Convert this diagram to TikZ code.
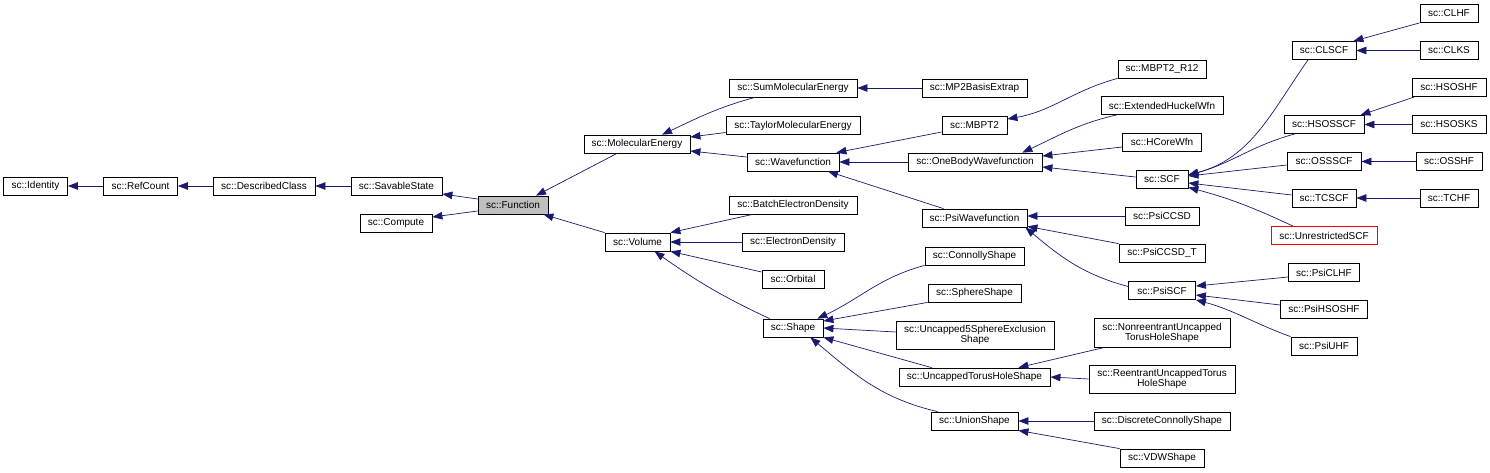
\documentclass[tikz,border=0pt]{standalone}
\usepackage{fontspec}
\setmainfont{Liberation Sans}
\usetikzlibrary{arrows.meta}
\definecolor{edgeblue}{RGB}{25,25,112}
\definecolor{fungray}{RGB}{191,191,191}
\begin{document}
\begin{tikzpicture}[x=1pt,y=-1pt,
 cls/.style={draw=black, line width=0.8pt, fill=white, inner sep=0pt, minimum height=18pt, font=\fontsize{10}{10}\selectfont, align=center},
 cls2/.style={cls, minimum height=28pt},
 edge/.style={draw=edgeblue, line width=0.7pt, -{Triangle[length=10pt,width=7.5pt]}},
]
\useasboundingbox (0,0) rectangle (1490,472);
% column 0-3
\node[cls, minimum width=64pt] (Identity) at (35.5,186) {sc::Identity};
\node[cls, minimum width=74pt] (RefCount) at (140.5,186) {sc::RefCount};
\node[cls, minimum width=102pt] (DescribedClass) at (264,186) {sc::DescribedClass};
\node[cls, minimum width=91pt] (SavableState) at (396.5,186) {sc::SavableState};
\node[cls, minimum width=72pt] (Compute) at (396,223) {sc::Compute};
\node[cls, minimum width=70pt, fill=fungray] (Function) at (513,205) {sc::Function};
% column 4
\node[cls, minimum width=106pt] (MolecularEnergy) at (637,144) {sc::MolecularEnergy};
\node[cls, minimum width=65pt] (Volume) at (637.5,242) {sc::Volume};
% column 5
\node[cls, minimum width=128pt] (SumMolecularEnergy) at (793,88) {sc::SumMolecularEnergy};
\node[cls, minimum width=134pt] (TaylorMolecularEnergy) at (793,125.5) {sc::TaylorMolecularEnergy};
\node[cls, minimum width=92pt] (Wavefunction) at (793,162) {sc::Wavefunction};
\node[cls, minimum width=128pt] (BatchElectronDensity) at (793,205) {sc::BatchElectronDensity};
\node[cls, minimum width=102pt] (ElectronDensity) at (793,242) {sc::ElectronDensity};
\node[cls, minimum width=62pt] (Orbital) at (793,279) {sc::Orbital};
\node[cls, minimum width=60pt] (Shape) at (793,328) {sc::Shape};
% column 6
\node[cls, minimum width=105pt] (MPBasisExtrap) at (974.5,88) {sc::MP2BasisExtrap};
\node[cls, minimum width=65pt] (MBPT) at (974.5,125.5) {sc::MBPT2};
\node[cls, minimum width=134pt] (OneBodyWavefunction) at (975,162) {sc::OneBodyWavefunction};
\node[cls, minimum width=105pt] (PsiWavefunction) at (974.5,218) {sc::PsiWavefunction};
\node[cls, minimum width=99pt] (ConnollyShape) at (974.5,256) {sc::ConnollyShape};
\node[cls, minimum width=93pt] (SphereShape) at (974.5,293) {sc::SphereShape};
\node[cls2, minimum width=158pt] (Uncapped) at (975,335) {sc::Uncapped5SphereExclusion\\Shape};
\node[cls, minimum width=151pt] (UncappedTorus) at (974.5,377) {sc::UncappedTorusHoleShape};
\node[cls, minimum width=87pt] (UnionShape) at (974.5,421) {sc::UnionShape};
% column 7
\node[cls, minimum width=88pt] (MBPTR) at (1162,69) {sc::MBPT2\_R12};
\node[cls, minimum width=122pt] (ExtendedHuckelWfn) at (1162,105.5) {sc::ExtendedHuckelWfn};
\node[cls, minimum width=79pt] (HCoreWfn) at (1162,142) {sc::HCoreWfn};
\node[cls, minimum width=52pt] (SCF) at (1162,179) {sc::SCF};
\node[cls, minimum width=74pt] (PsiCCSD) at (1162,216) {sc::PsiCCSD};
\node[cls, minimum width=86pt] (PsiCCSDT) at (1162,253) {sc::PsiCCSD\_T};
\node[cls, minimum width=67pt] (PsiSCF) at (1162,290.5) {sc::PsiSCF};
\node[cls2, minimum width=136pt, minimum height=29pt] (Nonreentrant) at (1162,332.5) {sc::NonreentrantUncapped\\TorusHoleShape};
\node[cls2, minimum width=146pt] (Reentrant) at (1162,379) {sc::ReentrantUncappedTorus\\HoleShape};
\node[cls, minimum width=136pt] (Discrete) at (1162,421) {sc::DiscreteConnollyShape};
\node[cls, minimum width=84pt] (VDWShape) at (1162,458) {sc::VDWShape};
% column 8
\node[cls, minimum width=64pt] (CLSCF) at (1324,50.5) {sc::CLSCF};
\node[cls, minimum width=80pt] (HSOSSCF) at (1324,124.5) {sc::HSOSSCF};
\node[cls, minimum width=74pt] (OSSSCF) at (1324,161.5) {sc::OSSSCF};
\node[cls, minimum width=64pt] (TCSCF) at (1324,198) {sc::TCSCF};
\node[cls, minimum width=106pt, draw=red] (UnrestrictedSCF) at (1324,235.5) {sc::UnrestrictedSCF};
\node[cls, minimum width=71pt] (PsiCLHF) at (1324,272.5) {sc::PsiCLHF};
\node[cls, minimum width=87pt] (PsiHSOSHF) at (1324,309) {sc::PsiHSOSHF};
\node[cls, minimum width=66pt] (PsiUHF) at (1324,346) {sc::PsiUHF};
% column 9
\node[cls, minimum width=58pt] (CLHF) at (1449,13.5) {sc::CLHF};
\node[cls, minimum width=58pt] (CLKS) at (1449,50.5) {sc::CLKS};
\node[cls, minimum width=74pt] (HSOSHF) at (1449,87.5) {sc::HSOSHF};
\node[cls, minimum width=74pt] (HSOSKS) at (1449,124.5) {sc::HSOSKS};
\node[cls, minimum width=66pt] (OSSHF) at (1449,161.5) {sc::OSSHF};
\node[cls, minimum width=58pt] (TCHF) at (1449,198) {sc::TCHF};
% edges
\draw[edge] (RefCount.west) -- (Identity.east);
\draw[edge] (DescribedClass.west) -- (RefCount.east);
\draw[edge] (SavableState.west) -- (DescribedClass.east);
\draw[edge] ([yshift=6pt]Function.west) -- ([yshift=-8pt]SavableState.east);
\draw[edge] ([yshift=-6pt]Function.west) -- ([yshift=6pt]Compute.east);
\draw[edge] ([xshift=-20pt]MolecularEnergy.south) -- ([xshift=23pt]Function.north);
\draw[edge] (Volume.north west) -- ([xshift=-5pt]Function.south east);
\draw[edge] ([xshift=-38pt]SumMolecularEnergy.south) to[out=195,in=25] ([xshift=25pt]MolecularEnergy.north);
\draw[edge] ([yshift=-7pt]TaylorMolecularEnergy.west) -- ([yshift=7pt]MolecularEnergy.east);
\draw[edge] ([yshift=5pt]Wavefunction.west) -- ([yshift=-7pt]MolecularEnergy.east);
\draw[edge] (MPBasisExtrap.west) -- (SumMolecularEnergy.east);
\draw[edge] ([yshift=-6.5pt]MBPT.west) -- ([xshift=-3pt]Wavefunction.north east);
\draw[edge] (OneBodyWavefunction.west) -- (Wavefunction.east);
\draw[edge] ([xshift=-31pt]PsiWavefunction.north) -- ([xshift=35pt]Wavefunction.south);
\draw[edge] (MBPTR.south west) to[out=195,in=10] ([yshift=6.5pt]MBPT.east);
\draw[edge] ([xshift=16pt]ExtendedHuckelWfn.south west) to[out=193,in=25] ([xshift=-20pt]OneBodyWavefunction.north east);
\draw[edge] ([yshift=-5pt]HCoreWfn.west) -- ([yshift=6pt]OneBodyWavefunction.east);
\draw[edge] ([yshift=2pt]SCF.west) -- ([yshift=-5pt]OneBodyWavefunction.east);
\draw[edge] ([xshift=-16pt]CLSCF.south) to[out=235,in=15] ([yshift=4pt]SCF.east);
\draw[edge] ([xshift=-29pt]HSOSSCF.south) to[out=195,in=15] ([yshift=4pt]SCF.east);
\draw[edge] ([yshift=-3.5pt]OSSSCF.west) -- ([yshift=3pt]SCF.east);
\draw[edge] ([yshift=3pt]TCSCF.west) -- ([yshift=-4pt]SCF.east);
\draw[edge] ([xshift=-31pt]UnrestrictedSCF.north) to[out=155,in=-15] ([yshift=1pt]SCF.south east);
\draw[edge] (CLHF.south west) -- ([xshift=-3pt]CLSCF.north east);
\draw[edge] (CLKS.west) -- (CLSCF.east);
\draw[edge] ([xshift=3pt]HSOSHF.south west) -- ([xshift=-4pt]HSOSSCF.north east);
\draw[edge] (HSOSKS.west) -- (HSOSSCF.east);
\draw[edge] (OSSHF.west) -- (OSSSCF.east);
\draw[edge] (TCHF.west) -- (TCSCF.east);
\draw[edge] (PsiCCSD.west) -- ([yshift=2pt]PsiWavefunction.east);
\draw[edge] (PsiCCSDT.north west) -- ([yshift=1pt]PsiWavefunction.south east);
\draw[edge] ([yshift=4pt]PsiSCF.west) to[out=165,in=-40] ([xshift=-2pt]PsiWavefunction.south east);
\draw[edge] ([yshift=-4.5pt]PsiCLHF.west) -- ([yshift=4.5pt]PsiSCF.east);
\draw[edge] ([yshift=4pt]PsiHSOSHF.west) -- ([yshift=-4.5pt]PsiSCF.east);
\draw[edge] (PsiUHF.north west) to[out=160,in=-15] (PsiSCF.south east);
\draw[edge] ([xshift=24pt]BatchElectronDensity.south west) -- (Volume.north east);
\draw[edge] (ElectronDensity.west) -- (Volume.east);
\draw[edge] ([yshift=7pt]Orbital.west) -- (Volume.south east);
\draw[edge] ([xshift=7pt]Shape.north west) to[out=155,in=-35] ([xshift=17pt]Volume.south);
\draw[edge] (ConnollyShape.south west) to[out=195,in=25] ([xshift=-6pt]Shape.north east);
\draw[edge] (SphereShape.south west) -- ([yshift=7pt]Shape.east);
\draw[edge] ([yshift=3pt]Uncapped.west) -- (Shape.east);
\draw[edge] ([xshift=33pt]UncappedTorus.north west) -- (Shape.south east);
\draw[edge] ([xshift=7pt]UnionShape.north west) to[out=167,in=-40] ([xshift=-13pt]Shape.south east);
\draw[edge] ([xshift=11pt]Nonreentrant.south west) -- ([xshift=-32pt]UncappedTorus.north east);
\draw[edge] (Reentrant.west) -- (UncappedTorus.east);
\draw[edge] (Discrete.west) -- (UnionShape.east);
\draw[edge] (VDWShape.north west) -- (UnionShape.south east);
\end{tikzpicture}
\end{document}
